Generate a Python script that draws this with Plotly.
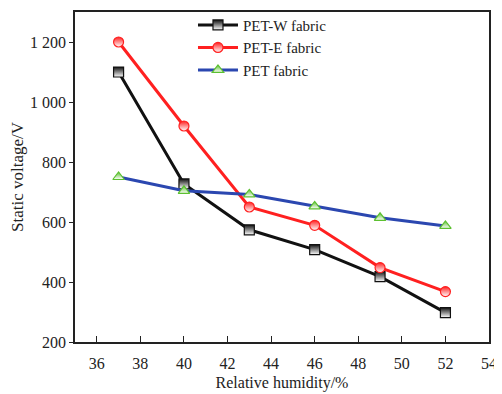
import plotly.graph_objects as go

humidity = [37, 40, 43, 46, 49, 52]
pet_w = [1100, 727, 574, 508, 418, 298]
pet_e = [1200, 920, 650, 589, 448, 368]
pet = [750, 704, 692, 652, 614, 587]

x_ticks = [36, 38, 40, 42, 44, 46, 48, 50, 52, 54]
y_ticks = [200, 400, 600, 800, 1000, 1200]
y_ticktext = ["200", "400", "600", "800", "1 000", "1 200"]

series = [
    ("PET-W fabric", pet_w, "#111111", "square", "#111111", "#111111"),
    ("PET-E fabric", pet_e, "#ff2020", "circle", "#ff2020", "#ff2020"),
    ("PET fabric", pet, "#2b47b0", "triangle-up", "#5cc030", "#5cc030"),
]

fig = go.Figure()
for name, ys, lc, sym, fill, edge in series:
    fig.add_trace(go.Scatter(
        x=humidity, y=ys, name=name, mode="lines+markers",
        line=dict(color=lc, width=3),
        marker=dict(symbol=sym, size=10, color=fill,
                    line=dict(color=edge, width=1.2),
                    gradient=dict(type="vertical", color="white")),
    ))

font_family = "Liberation Serif"
fig.update_layout(
    width=494, height=386,
    margin=dict(l=67, r=13, t=4, b=52, autoexpand=False),
    paper_bgcolor="white", plot_bgcolor="white",
    font=dict(family=font_family, size=16, color="#222"),
    legend=dict(x=0.285, y=1.01, xanchor="left", yanchor="top",
                bgcolor="rgba(0,0,0,0)", font=dict(size=15, family=font_family),
                tracegroupgap=0, itemwidth=40),
    showlegend=True,
)
fig.update_xaxes(
    range=[35, 54], tickvals=x_ticks, ticks="inside", ticklen=6,
    tickcolor="#222", tickwidth=1.2, ticklabelstandoff=6, automargin=False,
    showline=True, linecolor="#222", linewidth=1.5, mirror=True,
    showgrid=False, zeroline=False,
    tickfont=dict(size=16, family=font_family),
    title=dict(text="Relative humidity/%", font=dict(size=16, family=font_family), standoff=6),
)
fig.update_yaxes(
    range=[200, 1300], tickvals=y_ticks, ticktext=y_ticktext, automargin=False,
    ticks="outside", ticklen=4, tickcolor="#222", tickwidth=1.2,
    showline=True, linecolor="#222", linewidth=1.5, mirror=True,
    showgrid=False, zeroline=False,
    tickfont=dict(size=16, family=font_family),
    title=dict(text="Static voltage/V", font=dict(size=17, family=font_family), standoff=8),
)
fig.write_html("out.html")
